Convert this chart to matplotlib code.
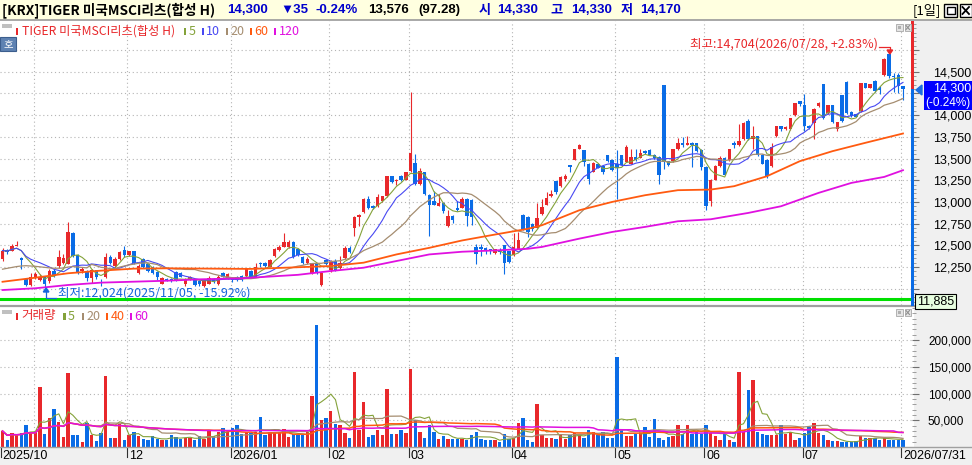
import pandas as pd
import matplotlib
matplotlib.use("Agg")
import matplotlib.pyplot as plt
from matplotlib.patches import Rectangle, Polygon
from matplotlib.lines import Line2D
from matplotlib.ticker import MultipleLocator
from matplotlib import font_manager

W, H = 972, 465
KR = ['Noto Sans CJK KR', 'DejaVu Sans']
names = {f.name for f in font_manager.fontManager.ttflist}
NUM = ['Liberation Sans'] if 'Liberation Sans' in names else ['DejaVu Sans']
plt.rcParams['font.family'] = KR

# daily candles 2025/10/23 .. 2026/07/31
opens = [12340, 12445, 12440, 12495, 12350, 12110, 12040, 12140, 12100, 12135,
         12085, 12200, 12260, 12300, 12290, 12640, 12390, 12200, 12200, 12120,
         12210, 12080, 12130, 12370, 12260, 12340, 12445, 12390, 12430, 12185,
         12340, 12290, 12250, 12190, 12060, 12110, 12105, 12190, 12180, 12060,
         12110, 12100, 12090, 12030, 12060, 12110, 12050, 12180, 12125, 12110,
         12140, 12150, 12145, 12200, 12140, 12300, 12300, 12255, 12380, 12445,
         12485, 12485, 12540, 12460, 12370, 12300, 12185, 12295, 12045, 12330,
         12211, 12315, 12242, 12349, 12472, 12700, 12823, 12884, 13034, 12950,
         12950, 13007, 13064, 13294, 13237, 13301, 13255, 13351, 13447, 13206,
         13343, 13076, 13015, 12957, 12988, 12720, 12835, 12930, 12930, 13034,
         13026, 12479, 12479, 12472, 12452, 12414, 12450, 12498, 12433, 12385,
         12462, 12854, 12827, 12750, 12704, 12858, 12969, 13069, 13238, 13181,
         13269, 13423, 13488, 13615, 13596, 13442, 13346, 13442, 13415, 13538,
         13481, 13442, 13538, 13461, 13442, 13519, 13511, 13592, 13596, 13546,
         13519, 14346, 13469, 13469, 13608, 13673, 13654, 13673, 13673, 13596,
         13400, 13008, 13258, 13412, 13508, 13481, 13681, 13650, 13719, 13931,
         13727, 13758, 13546, 13488, 13412, 13758, 13873, 13835, 13835, 14000,
         14161, 14111, 13880, 13911, 14104, 14354, 14019, 14111, 13835, 14227,
         14381, 14035, 14008, 14046, 14365, 14315, 14392, 14315, 14462, 14700,
         14450, 14462, 14330]
highs = [12470, 12460, 12510, 12555, 12370, 12120, 12185, 12190, 12170, 12150,
         12230, 12230, 12450, 12400, 12770, 12650, 12400, 12250, 12220, 12230,
         12220, 12110, 12410, 12390, 12360, 12440, 12490, 12440, 12440, 12280,
         12350, 12300, 12260, 12200, 12130, 12125, 12120, 12200, 12190, 12120,
         12150, 12110, 12100, 12110, 12150, 12120, 12160, 12190, 12180, 12120,
         12150, 12160, 12230, 12210, 12295, 12310, 12310, 12340, 12470, 12505,
         12640, 12560, 12550, 12470, 12380, 12360, 12300, 12300, 12190, 12340,
         12330, 12338, 12376, 12490, 12490, 12835, 12860, 13050, 13064, 12960,
         13090, 13070, 13300, 13300, 13265, 13310, 13350, 14261, 13550, 13390,
         13350, 13090, 13120, 13091, 12995, 12911, 12845, 13007, 13053, 13040,
         13030, 12517, 12517, 12480, 12460, 12460, 12470, 12505, 12440, 12646,
         12654, 12860, 12840, 12760, 12992, 13038, 13115, 13135, 13245, 13300,
         13327, 13430, 13610, 13665, 13600, 13450, 13455, 13450, 13420, 13545,
         13490, 13596, 13545, 13661, 13615, 13608, 13615, 13600, 13608, 13555,
         13525, 14350, 13475, 13615, 13738, 13750, 13761, 13685, 13680, 13610,
         13410, 13260, 13420, 13527, 13515, 13610, 13700, 13892, 13920, 13950,
         13873, 13765, 13555, 13495, 13681, 13880, 13880, 13870, 13970, 14140,
         14165, 14238, 13885, 14080, 14150, 14360, 14120, 14120, 13925, 14235,
         14390, 14045, 14015, 14370, 14372, 14360, 14400, 14335, 14660, 14704,
         14481, 14481, 14330]
lows = [12320, 12400, 12430, 12490, 12230, 12035, 12030, 12110, 12090, 12024,
        12070, 12130, 12240, 12280, 12280, 12360, 12170, 12180, 12090, 12065,
        12110, 12030, 12120, 12280, 12240, 12330, 12370, 12380, 12280, 12170,
        12240, 12190, 12170, 12100, 12050, 12085, 12080, 12090, 12130, 12030,
        12100, 12030, 12030, 12025, 12050, 12070, 12040, 12130, 12115, 12080,
        12090, 12090, 12140, 12130, 12135, 12250, 12250, 12250, 12370, 12440,
        12480, 12470, 12350, 12380, 12290, 12290, 12170, 12170, 12028, 12270,
        12190, 12200, 12230, 12340, 12410, 12605, 12720, 12870, 12920, 12915,
        12940, 13000, 13060, 13220, 13190, 13245, 13250, 13345, 13200, 13200,
        13085, 12605, 12960, 12950, 12873, 12715, 12758, 12892, 12925, 12720,
        12731, 12280, 12376, 12395, 12395, 12405, 12400, 12165, 12300, 12375,
        12455, 12680, 12596, 12670, 12700, 12850, 12960, 13060, 13096, 13175,
        13238, 13346, 13480, 13610, 13415, 13211, 13340, 13385, 13327, 13460,
        13360, 13038, 13415, 13455, 13435, 13475, 13505, 13550, 13540, 13500,
        13211, 13377, 13415, 13460, 13600, 13635, 13650, 13404, 13580, 13365,
        12912, 12950, 13250, 13405, 13310, 13475, 13623, 13640, 13710, 13710,
        13604, 13527, 13435, 13280, 13405, 13750, 13815, 13825, 13830, 13995,
        14104, 13815, 13845, 13719, 14095, 13950, 14010, 13910, 13815, 13925,
        14010, 13980, 13975, 14040, 14310, 14310, 14270, 14238, 14455, 14430,
        14270, 14260, 14170]
closes = [12440, 12425, 12495, 12505, 12330, 12045, 12140, 12165, 12140, 12060,
          12200, 12150, 12370, 12350, 12655, 12380, 12190, 12225, 12120, 12215,
          12135, 12065, 12370, 12300, 12340, 12420, 12385, 12430, 12295, 12265,
          12255, 12200, 12180, 12140, 12120, 12100, 12095, 12100, 12140, 12105,
          12140, 12045, 12060, 12105, 12120, 12080, 12140, 12140, 12170, 12095,
          12100, 12095, 12225, 12140, 12255, 12285, 12260, 12330, 12455, 12485,
          12540, 12540, 12370, 12385, 12295, 12345, 12295, 12180, 12180, 12280,
          12305, 12220, 12300, 12472, 12425, 12830, 12854, 13034, 12930, 12930,
          13053, 13064, 13294, 13229, 13255, 13255, 13343, 13561, 13206, 13351,
          13091, 12969, 12969, 12988, 12900, 12835, 12797, 12911, 13038, 12835,
          12827, 12395, 12460, 12433, 12433, 12452, 12420, 12292, 12311, 12481,
          12558, 12692, 12650, 12685, 12815, 12938, 13050, 13096, 13115, 13292,
          13300, 13404, 13604, 13654, 13461, 13269, 13450, 13392, 13346, 13469,
          13365, 13385, 13423, 13627, 13519, 13481, 13558, 13558, 13546, 13508,
          13315, 13461, 13423, 13608, 13673, 13654, 13673, 13654, 13585, 13404,
          12950, 13250, 13412, 13508, 13315, 13604, 13650, 13700, 13911, 13719,
          13765, 13546, 13442, 13296, 13635, 13873, 13835, 13860, 13961, 14135,
          14123, 13873, 13854, 14073, 14142, 13969, 14111, 13919, 13919, 13931,
          14019, 13988, 13981, 14365, 14315, 14354, 14277, 14288, 14643, 14450,
          14435, 14335, 14300]
volumes = [30000, 13750, 26000, 22000, 26000, 40600, 26000, 28000, 112500, 25000,
           55000, 70600, 47000, 19000, 138750, 22000, 22000, 9400, 45600, 22000,
           10600, 27000, 132500, 17000, 17000, 42500, 12500, 22000, 28000, 20000,
           14400, 12500, 20000, 15600, 13750, 13750, 22000, 19000, 15000, 17500,
           17500, 12500, 20000, 15600, 30000, 20000, 28000, 35600, 28000, 35600,
           40600, 23750, 28000, 26000, 29000, 56000, 22000, 28000, 28000, 28000,
           33000, 19000, 25000, 22000, 22000, 28000, 95000, 228000, 50000, 54400,
           67500, 42500, 40600, 26000, 17000, 140600, 31000, 84000, 19000, 22000,
           31000, 22000, 108000, 23750, 23750, 31000, 26000, 145600, 50000, 28000,
           17000, 40600, 29000, 14400, 20000, 15600, 15600, 15600, 15600, 13750,
           22000, 29000, 14400, 14000, 13750, 12500, 8750, 23750, 15600, 17500,
           44000, 53750, 12500, 8750, 80000, 22000, 17500, 17000, 15600, 22000,
           15600, 22000, 27000, 22000, 17000, 31000, 29000, 22000, 28000, 17000,
           17000, 168750, 31000, 20000, 20000, 23750, 26000, 37500, 19000, 52000,
           17000, 12500, 19000, 20000, 40600, 25000, 40600, 25000, 28000, 25000,
           40600, 26000, 20000, 13750, 25000, 13750, 10000, 140600, 28000, 106000,
           125000, 28000, 25000, 22000, 22000, 22000, 40600, 25000, 29000, 12500,
           17000, 27000, 37500, 45000, 26000, 22000, 12500, 11000, 10600, 9400,
           9400, 9400, 10600, 20000, 17000, 17000, 17000, 13750, 17000, 13750,
           13750, 13955, 13576]

ma20_head = [12225, 12235, 12245, 12255, 12262, 12265, 12262, 12258, 12252, 12245,
             12240, 12236, 12236, 12238, 12250, 12255, 12250, 12245, 12240]
ma60_idx = [0, 7, 14, 21, 28, 35, 53, 70, 77, 84, 91, 98, 105, 112, 115, 123,
            130, 137, 144, 151, 156, 163, 170, 177, 184, 192]
ma60_val = [12080, 12127, 12178, 12208, 12231, 12235, 12228, 12261, 12300, 12395,
            12471, 12556, 12624, 12690, 12731, 12904, 13000, 13077, 13135, 13142,
            13181, 13296, 13469, 13585, 13681, 13788]
ma120_idx = [0, 7, 14, 21, 28, 35, 42, 51, 63, 70, 77, 84, 91, 98, 105, 112, 115,
             123, 130, 137, 144, 151, 159, 166, 174, 181, 188, 192]
ma120_val = [11985, 12005, 12043, 12070, 12081, 12092, 12108, 12120, 12160, 12204,
             12242, 12319, 12395, 12426, 12441, 12460, 12481, 12577, 12654, 12712,
             12777, 12800, 12873, 12950, 13104, 13219, 13288, 13365]

tick_idx = [0, 7, 27, 49, 70, 87, 109, 131, 150, 171, 192]
tick_lbl = ['2025/10', '', '12', '2026/01', '02', '03', '04', '05', '06', '07', '2026/07/31']

price_ticks = [12000, 12250, 12500, 12750, 13000, 13250, 13500, 13750, 14000, 14250, 14500, 14750]
price_lbls = ['', '12,250', '12,500', '12,750', '13,000', '13,250', '13,500', '13,750',
              '14,000', '', '14,500', '']
vol_ticks = [50000, 100000, 150000, 200000]
vol_lbls = ['50,000', '100,000', '150,000', '200,000']

UP, DN = '#E8282B', '#0A6CE6'
C5, C10, C20, C60, C120 = '#84A23A', '#4848F2', '#A58D70', '#FF5A10', '#E010E0'

n = len(closes)
idx = list(range(n))
cols = [UP if c >= o else DN for o, c in zip(opens, closes)]
close_s = pd.Series(closes, dtype=float)
vol_s = pd.Series(volumes, dtype=float)
ma20 = close_s.rolling(20).mean()
ma20.iloc[:len(ma20_head)] = ma20_head

fig = plt.figure(figsize=(W / 100, H / 100), dpi=100)
fig.patch.set_facecolor('white')


def frect(x0, y0, x1, y1, z=-1, **kw):
    r = Rectangle((x0 / W, 1 - y1 / H), (x1 - x0) / W, (y1 - y0) / H,
                  transform=fig.transFigure, zorder=z, **kw)
    fig.add_artist(r)


def fline(xs, ys, **kw):
    fig.add_artist(Line2D([x / W for x in xs], [1 - y / H for y in ys],
                          transform=fig.transFigure, **kw))


def ptext(x, y, s, color='black', size=8.5, family=KR, weight='normal', ha='left', va='center'):
    fig.text(x / W, 1 - y / H, s, color=color, fontsize=size, family=family,
             fontweight=weight, ha=ha, va=va, zorder=8)


# backgrounds
frect(914, 20, 972, 447, facecolor='#F0F0F0', lw=0)
frect(0, 447, 972, 465, facecolor='#F0F0F0', lw=0)
frect(0, 0, 972, 20, facecolor='#FFFFE0', lw=0)
fline([0, 972], [20.5, 20.5], color='#9A9A9A', lw=1.2, zorder=2)
fline([0, 914], [305.8, 305.8], color='#A0A0A0', lw=1.6, zorder=2)
fline([0, 972], [447.3, 447.3], color='#A0A0A0', lw=1.0, zorder=2)

x_lo, x_hi = -2.5 / 4.69, (912 - 2.5) / 4.69
ax_p = fig.add_axes([0, 1 - 305 / H, 912 / W, (305 - 21) / H])
ax_v = fig.add_axes([0, 1 - 447 / H, 912 / W, (447 - 307) / H])

# ---- price panel ----
ax_p.set_xlim(x_lo, x_hi)
ax_p.set_ylim(14500 - (305 - 71.7) * 11.52, 14500 + (71.7 - 21) * 11.52)
bot = [min(o, c) for o, c in zip(opens, closes)]
hgt = [max(abs(c - o), 14) for o, c in zip(opens, closes)]
ax_p.vlines(idx, lows, highs, colors=cols, lw=0.8, zorder=2)
ax_p.bar(idx, hgt, bottom=bot, width=0.74, color=cols, lw=0, zorder=2)
ax_p.plot(idx, close_s.rolling(5, min_periods=1).mean(), color=C5, lw=0.8, zorder=3)
ax_p.plot(idx, close_s.rolling(10, min_periods=1).mean(), color=C10, lw=0.8, zorder=3)
ax_p.plot(idx, ma20, color=C20, lw=0.9, zorder=3)
ax_p.plot(ma60_idx, ma60_val, color=C60, lw=1.3, zorder=3)
ax_p.plot(ma120_idx, ma120_val, color=C120, lw=1.3, zorder=3)
ax_p.axhline(11885, color='#00E000', lw=2.2, zorder=4)

# ---- volume panel ----
ax_v.set_xlim(x_lo, x_hi)
ax_v.set_ylim(0, (446.7 - 307) * 1875)
ax_v.bar(idx, volumes, width=0.72, color=cols, lw=0, zorder=2)
ax_v.plot(idx, vol_s.rolling(5, min_periods=1).mean(), color=C5, lw=0.8, zorder=3)
ax_v.plot(idx, vol_s.rolling(20, min_periods=1).mean(), color=C20, lw=0.9, zorder=3)
ax_v.plot(idx, vol_s.rolling(40, min_periods=1).mean(), color=C60, lw=1.1, zorder=3)
ax_v.plot(idx, vol_s.rolling(60, min_periods=1).mean(), color=C120, lw=1.1, zorder=3)

for ax, ticks, lbls, minor, fs, pad in [(ax_p, price_ticks, price_lbls, 50, 9, 10),
                                        (ax_v, vol_ticks, vol_lbls, 10000, 8.5, 6.5)]:
    for sp in ax.spines.values():
        sp.set_visible(False)
    ax.yaxis.tick_right()
    ax.set_yticks(ticks, labels=lbls, fontsize=fs, family=NUM)
    ax.yaxis.set_minor_locator(MultipleLocator(minor))
    ax.tick_params(axis='y', which='major', length=5, width=0.8, color='#707070', pad=pad)
    ax.tick_params(axis='y', which='minor', length=3, width=0.6, color='#909090')
    ax.tick_params(axis='x', bottom=False, labelbottom=False)
    ax.grid(axis='y', which='major', ls=(0, (1, 2.5)), color='#B4B4B4', lw=0.8)
    for t in tick_idx[1:]:
        ax.axvline(t - 0.36, ls=(0, (1, 2.5)), color='#B4B4B4', lw=0.8, zorder=1)

# date labels under the volume panel
xt = ax_v.get_xaxis_transform()
for t, lbl in zip(tick_idx, tick_lbl):
    if not lbl:
        continue
    ax_v.plot([t - 0.36, t - 0.36], [-0.005, -0.07], transform=xt, color='#303030', lw=0.8, clip_on=False)
    ax_v.text(t + 0.05, -0.064, lbl, transform=xt, fontsize=9, family=NUM, va='center', ha='left')

# high / low annotations
ax_p.text(146.6, 14500 + (71.7 - 44) * 11.52, '최고:14,704(2026/07/28, +2.83%)', color=UP,
          fontsize=9, va='center', ha='left', zorder=6)
ax_p.plot([186.9, 189.2, 189.2], [14500 + (71.7 - 46.5) * 11.52] * 2 + [14500 + (71.7 - 51) * 11.52],
          color=UP, lw=0.9, zorder=6)
ax_p.add_patch(Polygon([[188.6, 14500 + (71.7 - 50) * 11.52], [189.8, 14500 + (71.7 - 50) * 11.52],
                        [189.2, 14500 + (71.7 - 54) * 11.52]], closed=True, color=UP, zorder=6))
LOWC = '#1464DC'
ax_p.text(11.9, 14500 - (293 - 71.7) * 11.52, '최저:12,024(2025/11/05, -15.92%)', color=LOWC,
          fontsize=9, va='center', ha='left', zorder=6)
ax_p.plot([11.4, 9.3, 9.3], [14500 - (298 - 71.7) * 11.52] * 2 + [14500 - (291 - 71.7) * 11.52],
          color=LOWC, lw=0.9, zorder=6)
ax_p.add_patch(Polygon([[8.7, 14500 - (292 - 71.7) * 11.52], [9.9, 14500 - (292 - 71.7) * 11.52],
                        [9.3, 14500 - (288 - 71.7) * 11.52]], closed=True, color=LOWC, zorder=6))

# right edge price bar, current price and base line boxes
frect(911, 21, 914, 89, z=6, facecolor=UP, lw=0)
frect(911, 89, 914, 306, z=6, facecolor=DN, lw=0)
fig.add_artist(Polygon([[916 / W, 1 - 90 / H], [922 / W, 1 - 85 / H], [922 / W, 1 - 95 / H]],
                       closed=True, transform=fig.transFigure, color='#1C6EE0', zorder=6))
frect(924, 81.5, 972, 110, z=6, facecolor='#0000FF', lw=0)
ptext(933, 88.5, '14,300', color='white', size=9, family=NUM)
ptext(925.5, 103, '(-0.24%)', color='white', size=8.5, family=NUM)
frect(915, 294, 956, 308.5, z=6, facecolor='#E8FFE0', edgecolor='black', lw=0.8)
ptext(935.5, 301.5, '11,885', size=9, family=NUM, ha='center')

# header
ptext(2, 10, '[KRX]TIGER 미국MSCI리츠(합성 H)', size=9.8, weight='bold')
HB = '#0000CC'
for x, s, c in [(227, '14,300', HB), (280, '▼35', HB), (315, '-0.24%', HB), (368, '13,576', 'black'),
                (418, '(97.28)', 'black'), (497, '14,330', HB), (571, '14,330', HB), (640, '14,170', HB)]:
    ptext(x, 10, s, color=c, size=9.5, family=['Liberation Sans', 'DejaVu Sans'], weight='bold')
for x, s in [(479, '시'), (550, '고'), (621, '저')]:
    ptext(x, 10, s, color=HB, size=9.5, weight='bold')
ptext(913, 10, '[1일]', size=9.5)
for x0 in (944, 959.5):
    frect(x0, 4, x0 + 12.5, 17, z=6, facecolor='white', edgecolor='black', lw=1.0)
frect(947, 7, 954.5, 14, z=7, facecolor='white', edgecolor='black', lw=1.0)
fline([962.5, 969], [7, 14], color='black', lw=1.3, zorder=7)
fline([962.5, 969], [14, 7], color='black', lw=1.3, zorder=7)

# panel legends
frect(2, 24, 12, 28.5, z=6, facecolor='#C0C0C0', lw=0)
legend_p = [(16, 22, 'TIGER 미국MSCI리츠(합성 H)', UP), (184, 188.5, '5', C5), (201.5, 206, '10', C10),
            (226, 230.5, '20', C20), (250, 254.5, '60', C60), (274, 278.5, '120', C120)]
for mx, tx, s, c in legend_p:
    frect(mx, 28.5, mx + 2.3, 35, z=6, facecolor=c, lw=0)
    ptext(tx, 31.5, s, color=c, size=8.8 if mx == 16 else 9)
frect(0, 37, 16, 51, z=6, facecolor='#5E82B2', edgecolor='#3C5E8E', lw=0.8)
ptext(8, 44, '호', color='white', size=7.5, ha='center')

frect(2, 309.5, 12, 314, z=6, facecolor='#C0C0C0', lw=0)
legend_v = [(16, 21.5, '거래량', UP), (63.3, 68, '5', C5), (81.7, 86.5, '20', C20),
            (106, 111, '40', C60), (130, 134.5, '60', C120)]
for mx, tx, s, c in legend_v:
    frect(mx, 312.5, mx + 2.3, 319.5, z=6, facecolor=c, lw=0)
    ptext(tx, 316, s, color=c, size=9)

# little window buttons in each panel
for y0 in (24, 309):
    frect(896, y0, 903, y0 + 7, z=6, facecolor='#E4E4E4', edgecolor='#A8A8A8', lw=0.6)
    frect(898, y0 + 2, 901, y0 + 5, z=7, facecolor='#B0B0B0', lw=0)
    frect(904.5, y0, 911, y0 + 7, z=6, facecolor='#E4E4E4', edgecolor='#A8A8A8', lw=0.6)
    fline([906, 909.5], [y0 + 1.5, y0 + 5.5], color='#909090', lw=0.8, zorder=7)
    fline([906, 909.5], [y0 + 5.5, y0 + 1.5], color='#909090', lw=0.8, zorder=7)

fig.savefig('out.png', dpi=100, facecolor=fig.get_facecolor())
